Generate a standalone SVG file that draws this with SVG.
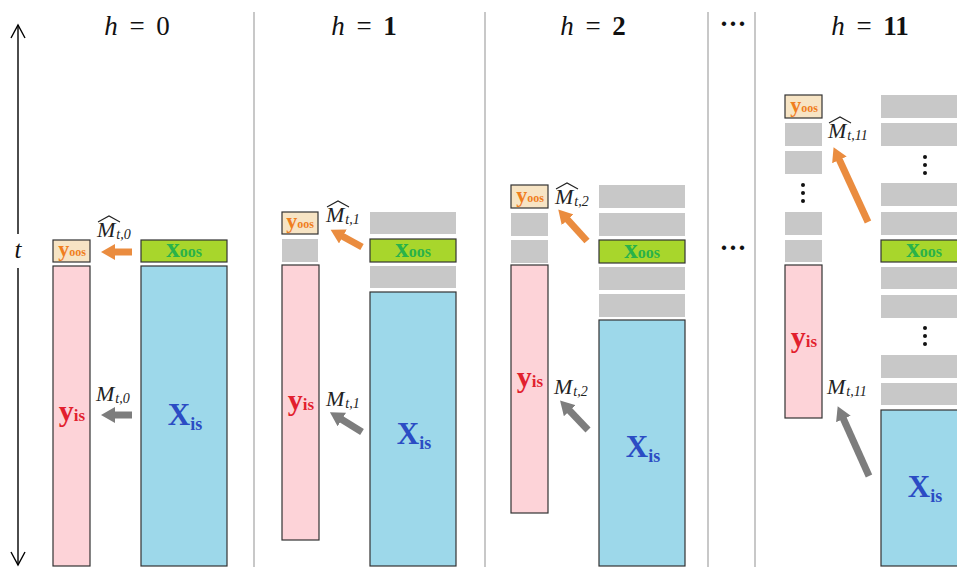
<svg xmlns="http://www.w3.org/2000/svg" width="957" height="567" viewBox="0 0 957 567">
  <style>
    .div { stroke: #c8c8c8; stroke-width: 2; fill: none; }
    .axis { stroke: #000; stroke-width: 1.4; fill: none; }
    .yoos { fill: #f7e4c4; stroke: #333; stroke-width: 1.2; }
    .xoos { fill: #a8d62c; stroke: #333; stroke-width: 1.2; }
    .yis { fill: #fdd3d8; stroke: #333; stroke-width: 1.2; }
    .xis { fill: #9dd8ea; stroke: #333; stroke-width: 1.2; }
    .blk { fill: #c8c8c8; }
    .hat { stroke: #222; stroke-width: 1.1; fill: none; }
    .ao { stroke: #ea8c3f; stroke-width: 7; fill: none; marker-end: url(#headO); }
    .ag { stroke: #7d7d7d; stroke-width: 7; fill: none; marker-end: url(#headG); }
    .dots { fill: #111; }
  </style>
  <defs>
    <marker id="headO" markerUnits="userSpaceOnUse" markerWidth="16" markerHeight="16" refX="1" refY="8" orient="auto">
      <path d="M0,0 L14,8 L0,16 z" fill="#ea8c3f"/>
    </marker>
    <marker id="headG" markerUnits="userSpaceOnUse" markerWidth="16" markerHeight="16" refX="1" refY="8" orient="auto">
      <path d="M0,0 L14,8 L0,16 z" fill="#7d7d7d"/>
    </marker>
  </defs>

  <rect width="957" height="567" fill="#fff"/>

  <!-- panel dividers -->
  <g id="dividers">
    <line class="div" x1="254" y1="12" x2="254" y2="567"/>
    <line class="div" x1="485" y1="12" x2="485" y2="567"/>
    <line class="div" x1="708" y1="12" x2="708" y2="567"/>
    <line class="div" x1="755" y1="12" x2="755" y2="567"/>
  </g>

  <!-- all text shares one serif face -->
  <g font-family="'Liberation Serif', 'DejaVu Serif', serif">

  <!-- time axis -->
  <g id="time-axis">
    <line class="axis" x1="18" y1="25" x2="18" y2="234"/>
    <line class="axis" x1="18" y1="268" x2="18" y2="565"/>
    <polyline class="axis" points="11,38 18,25 25,38"/>
    <polyline class="axis" points="11,552 18,565 25,552"/>
    <text x="18" y="258" text-anchor="middle" font-style="italic" font-size="25" fill="#111">t</text>
  </g>

  <!-- headers -->
  <g id="headers" font-size="27" fill="#111" text-anchor="middle" word-spacing="5">
    <text x="137" y="35"><tspan font-style="italic">h</tspan> = 0</text>
    <text x="364" y="35"><tspan font-style="italic">h</tspan> = <tspan font-weight="bold">1</tspan></text>
    <text x="593" y="35"><tspan font-style="italic">h</tspan> = <tspan font-weight="bold">2</tspan></text>
    <text x="733" y="33" font-weight="bold">···</text>
    <text x="870" y="35"><tspan font-style="italic">h</tspan> = <tspan font-weight="bold">11</tspan></text>
    <text x="733" y="257" font-weight="bold">···</text>
  </g>

  <!-- h = 0 -->
  <g id="panel-h0">
    <rect class="yoos" x="53" y="240" width="37" height="22"/>
    <text x="72" y="256" text-anchor="middle" font-weight="bold" fill="#f07e1e" font-size="22">y<tspan font-size="12">oos</tspan></text>
    <rect class="xoos" x="141" y="240" width="86" height="22"/>
    <text x="184" y="257" text-anchor="middle" font-weight="bold" fill="#2ab24a" font-size="27">x<tspan font-size="16">oos</tspan></text>
    <rect class="yis" x="53" y="266" width="37" height="300"/>
    <text x="72" y="421" text-anchor="middle" font-weight="bold" fill="#e21f2e" font-size="30">y<tspan font-size="17">is</tspan></text>
    <rect class="xis" x="141" y="266" width="86" height="300"/>
    <text x="185" y="425" text-anchor="middle" font-weight="bold" fill="#2b4cc4" font-size="31">X<tspan font-size="18" dy="5">is</tspan></text>
    <text x="97" y="237" font-style="italic" font-size="22" fill="#222">M<tspan font-size="14" dy="2" dx="1">t,0</tspan></text>
    <polyline class="hat" points="98,222 109,216 120,222"/>
    <text x="96" y="401" font-style="italic" font-size="22" fill="#222">M<tspan font-size="14" dy="2" dx="1">t,0</tspan></text>
  </g>

  <!-- h = 1 -->
  <g id="panel-h1">
    <rect class="yoos" x="282" y="212" width="36" height="22"/>
    <text x="300" y="228" text-anchor="middle" font-weight="bold" fill="#f07e1e" font-size="22">y<tspan font-size="12">oos</tspan></text>
    <rect class="blk" x="282" y="239" width="36" height="23"/>
    <rect class="yis" x="282" y="265" width="37" height="275"/>
    <text x="301" y="410" text-anchor="middle" font-weight="bold" fill="#e21f2e" font-size="30">y<tspan font-size="17">is</tspan></text>
    <rect class="blk" x="370" y="212" width="86" height="22"/>
    <rect class="xoos" x="370" y="239" width="86" height="23"/>
    <text x="413" y="257" text-anchor="middle" font-weight="bold" fill="#2ab24a" font-size="27">x<tspan font-size="16">oos</tspan></text>
    <rect class="blk" x="370" y="266" width="86" height="22"/>
    <rect class="xis" x="370" y="292" width="86" height="274"/>
    <text x="414" y="444" text-anchor="middle" font-weight="bold" fill="#2b4cc4" font-size="31">X<tspan font-size="18" dy="5">is</tspan></text>
    <text x="326" y="222" font-style="italic" font-size="22" fill="#222">M<tspan font-size="14" dy="2" dx="1">t,1</tspan></text>
    <polyline class="hat" points="327,207 338,201 349,207"/>
    <text x="326" y="406" font-style="italic" font-size="22" fill="#222">M<tspan font-size="14" dy="2" dx="1">t,1</tspan></text>
  </g>

  <!-- h = 2 -->
  <g id="panel-h2">
    <rect class="yoos" x="511" y="185" width="37" height="23"/>
    <text x="530" y="202" text-anchor="middle" font-weight="bold" fill="#f07e1e" font-size="22">y<tspan font-size="12">oos</tspan></text>
    <rect class="blk" x="511" y="213" width="37" height="23"/>
    <rect class="blk" x="511" y="240" width="37" height="23"/>
    <rect class="yis" x="511" y="265" width="37" height="248"/>
    <text x="530" y="387" text-anchor="middle" font-weight="bold" fill="#e21f2e" font-size="30">y<tspan font-size="17">is</tspan></text>
    <rect class="blk" x="599" y="185" width="86" height="23"/>
    <rect class="blk" x="599" y="213" width="86" height="23"/>
    <rect class="xoos" x="599" y="240" width="86" height="23"/>
    <text x="642" y="258" text-anchor="middle" font-weight="bold" fill="#2ab24a" font-size="27">x<tspan font-size="16">oos</tspan></text>
    <rect class="blk" x="599" y="267" width="86" height="23"/>
    <rect class="blk" x="599" y="294" width="86" height="23"/>
    <rect class="xis" x="599" y="320" width="86" height="246"/>
    <text x="643" y="457" text-anchor="middle" font-weight="bold" fill="#2b4cc4" font-size="31">X<tspan font-size="18" dy="5">is</tspan></text>
    <text x="555" y="204" font-style="italic" font-size="22" fill="#222">M<tspan font-size="14" dy="2" dx="1">t,2</tspan></text>
    <polyline class="hat" points="556,189 567,183 578,189"/>
    <text x="554" y="394" font-style="italic" font-size="22" fill="#222">M<tspan font-size="14" dy="2" dx="1">t,2</tspan></text>
  </g>

  <!-- h = 11 -->
  <g id="panel-h11">
    <rect class="yoos" x="785" y="95" width="37" height="23"/>
    <text x="804" y="112" text-anchor="middle" font-weight="bold" fill="#f07e1e" font-size="22">y<tspan font-size="12">oos</tspan></text>
    <rect class="blk" x="785" y="123" width="37" height="23"/>
    <rect class="blk" x="785" y="151" width="37" height="23"/>
    <circle class="dots" cx="803" cy="185" r="2"/>
    <circle class="dots" cx="803" cy="193" r="2"/>
    <circle class="dots" cx="803" cy="201" r="2"/>
    <rect class="blk" x="785" y="212" width="37" height="23"/>
    <rect class="blk" x="785" y="240" width="37" height="22"/>
    <rect class="yis" x="785" y="265" width="37" height="153"/>
    <text x="804" y="347" text-anchor="middle" font-weight="bold" fill="#e21f2e" font-size="30">y<tspan font-size="17">is</tspan></text>

    <rect class="blk" x="881" y="95" width="86" height="23"/>
    <rect class="blk" x="881" y="123" width="86" height="23"/>
    <circle class="dots" cx="925" cy="157" r="2"/>
    <circle class="dots" cx="925" cy="165" r="2"/>
    <circle class="dots" cx="925" cy="173" r="2"/>
    <rect class="blk" x="881" y="183" width="86" height="23"/>
    <rect class="blk" x="881" y="212" width="86" height="23"/>
    <rect class="xoos" x="881" y="240" width="86" height="22"/>
    <text x="924" y="257" text-anchor="middle" font-weight="bold" fill="#2ab24a" font-size="27">x<tspan font-size="16">oos</tspan></text>
    <rect class="blk" x="881" y="267" width="86" height="22"/>
    <rect class="blk" x="881" y="295" width="86" height="23"/>
    <circle class="dots" cx="925" cy="328" r="2"/>
    <circle class="dots" cx="925" cy="336" r="2"/>
    <circle class="dots" cx="925" cy="344" r="2"/>
    <rect class="blk" x="881" y="355" width="86" height="23"/>
    <rect class="blk" x="881" y="383" width="86" height="22"/>
    <rect class="xis" x="881" y="410" width="86" height="156"/>
    <text x="925" y="497" text-anchor="middle" font-weight="bold" fill="#2b4cc4" font-size="31">X<tspan font-size="18" dy="5">is</tspan></text>
    <text x="828" y="138" font-style="italic" font-size="22" fill="#222">M<tspan font-size="14" dy="2" dx="1">t,11</tspan></text>
    <polyline class="hat" points="829,123 840,117 851,123"/>
    <text x="827" y="394" font-style="italic" font-size="22" fill="#222">M<tspan font-size="14" dy="2" dx="1">t,11</tspan></text>
  </g>

  </g>

  <!-- mapping arrows -->
  <g id="connectors">
    <line class="ao" x1="132" y1="252" x2="114" y2="252"/>
    <line class="ag" x1="132" y1="415" x2="114" y2="415"/>
    <line class="ao" x1="362" y1="247" x2="342" y2="236"/>
    <line class="ag" x1="362" y1="432" x2="341" y2="419"/>
    <line class="ao" x1="587" y1="241" x2="567" y2="219"/>
    <line class="ag" x1="588" y1="430" x2="569" y2="410"/>
    <line class="ao" x1="868" y1="222" x2="839" y2="159"/>
    <line class="ag" x1="869" y1="476" x2="843" y2="418"/>
  </g>
</svg>
